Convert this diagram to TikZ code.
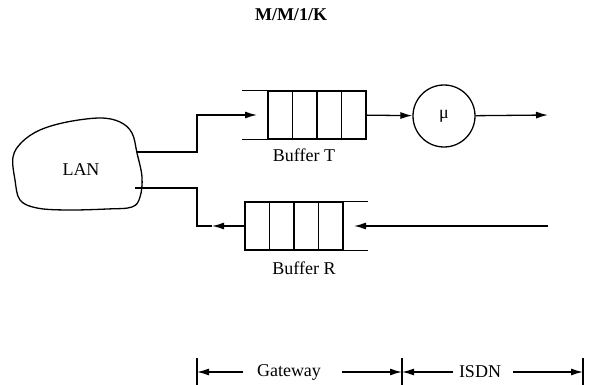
\documentclass[tikz,border=0pt]{standalone}
\usepackage{fontspec}
\setmainfont{Liberation Serif}
\usetikzlibrary{arrows.meta}

\begin{document}
\begin{tikzpicture}[x=1pt,y=-1pt,line width=1.3pt,->,>={Latex[length=12pt,width=7pt]}]
  \tikzstyle{cell}=[draw,-,minimum width=24.5pt,minimum height=48pt,inner sep=0pt]
  \tikzstyle{server}=[circle,draw,-,minimum size=62pt,inner sep=0pt,font=\fontsize{18}{21}\selectfont]
  \tikzstyle{tag}=[inner sep=0pt,font=\fontsize{18}{21}\selectfont]

  \useasboundingbox (0,0) rectangle (592,385);

  \node[tag,font=\fontsize{18}{21}\selectfont\bfseries] (title) at (291,15) {M/M/1/K};

  % LAN cloud
  \draw[-] plot[smooth cycle,tension=0.6] coordinates {(13,157) (22,142) (40,130) (67,122) (100,118) (120,122)
    (132,133) (137,153) (142,177) (140,197) (132,207) (107,209) (67,210) (37,208) (20,200) (15,180)};
  \node[tag] (lan) at (81,170) {LAN};
  \coordinate (lan-T) at (137,152);
  \coordinate (lan-R) at (135,188);

  % buffers
  \foreach \i in {1,...,4}
    \node[cell] (T-\i) at ({255.75+24.5*\i},115) {};
  \foreach \i in {1,...,4}
    \node[cell] (R-\i) at ({232.75+24.5*\i},226) {};
  \draw[-] (T-1.north west) -- ++(-25,0);
  \draw[-] (T-1.south west) -- ++(-25,0);
  \draw[-] (R-4.north east) -- ++(24,0);
  \draw[-] (R-4.south east) -- ++(24,0);
  \node[tag] (buf-T) at (304,155) {Buffer T};
  \node[tag] (buf-R) at (304,268) {Buffer R};

  \node[server] (mu) at (444,116) {μ};

  % transmit side
  \coordinate (j-T) at (197,115);
  \coordinate (in-T) at (257,115);
  \coordinate (out-T) at (548,115);
  \draw (lan-T) -| (j-T) -- (in-T);
  \draw (T-4) -- (mu);
  \draw (mu) -- (out-T);

  % receive side
  \coordinate (in-R) at (548,226);
  \coordinate (tip-R) at (354,226);
  \coordinate (tip-L) at (212,226);
  \coordinate (j-R) at (197,226);
  \draw (in-R) -- (tip-R);
  \draw (R-1) -- (tip-L);
  \draw[-] (tip-L) -- (j-R) |- (lan-R);

  % gateway / isdn
  \coordinate (b1) at (197,372);
  \coordinate (b2) at (402,372);
  \coordinate (b3) at (583,372);
  \foreach \b in {b1,b2,b3}
    \draw[-] ([yshift=14pt]\b) -- ([yshift=-14pt]\b);
  \node[tag] (gw) at (289,372) {Gateway};
  \node[tag] (isdn) at (480,372) {ISDN};
  \draw ([xshift=-46pt]gw.center) -- (b1);
  \draw ([xshift=53pt]gw.center) -- (b2);
  \draw ([xshift=-27pt]isdn.center) -- (b2);
  \draw ([xshift=33pt]isdn.center) -- (b3);
\end{tikzpicture}
\end{document}
